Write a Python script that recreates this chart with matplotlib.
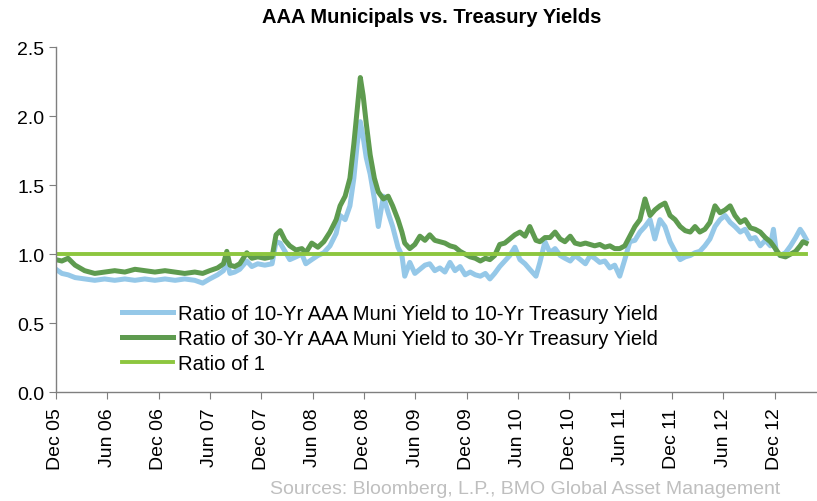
import matplotlib
matplotlib.use("Agg")
import matplotlib.pyplot as plt
import numpy as np
import pandas as pd

dates = [
    "2005-12-01", "2005-12-22", "2006-01-13", "2006-02-07", "2006-03-13", "2006-04-18",
    "2006-05-23", "2006-06-28", "2006-08-03", "2006-09-08", "2006-10-13", "2006-11-18",
    "2006-12-24", "2007-01-29", "2007-03-04", "2007-04-09", "2007-05-07", "2007-06-01",
    "2007-06-29", "2007-07-20", "2007-08-01", "2007-08-12", "2007-08-29", "2007-09-16",
    "2007-10-11", "2007-10-29", "2007-11-19", "2007-12-14", "2008-01-09", "2008-01-23",
    "2008-02-07", "2008-02-24", "2008-03-12", "2008-04-03", "2008-04-24", "2008-05-08",
    "2008-05-29", "2008-06-20", "2008-07-11", "2008-08-02", "2008-08-24", "2008-09-07",
    "2008-09-25", "2008-10-12", "2008-10-26", "2008-11-07", "2008-11-18", "2008-11-28",
    "2008-12-09", "2008-12-23", "2009-01-07", "2009-01-21", "2009-02-08", "2009-02-25",
    "2009-03-13", "2009-04-01", "2009-04-15", "2009-04-25", "2009-05-13", "2009-05-31",
    "2009-06-18", "2009-07-06", "2009-07-23", "2009-08-10", "2009-08-28", "2009-09-15",
    "2009-10-03", "2009-10-21", "2009-11-08", "2009-11-26", "2009-12-14", "2010-01-01",
    "2010-01-19", "2010-02-06", "2010-02-22", "2010-03-11", "2010-03-29", "2010-04-16",
    "2010-05-04", "2010-05-22", "2010-06-09", "2010-06-27", "2010-07-14", "2010-08-05",
    "2010-08-19", "2010-09-06", "2010-09-24", "2010-10-12", "2010-10-30", "2010-11-16",
    "2010-12-05", "2010-12-22", "2011-01-10", "2011-01-28", "2011-02-14", "2011-03-02",
    "2011-03-20", "2011-04-07", "2011-04-25", "2011-05-12", "2011-05-30", "2011-06-17",
    "2011-07-05", "2011-07-23", "2011-08-10", "2011-08-28", "2011-09-15", "2011-10-02",
    "2011-10-20", "2011-11-07", "2011-11-25", "2011-12-13", "2011-12-31", "2012-01-18",
    "2012-02-05", "2012-02-22", "2012-03-10", "2012-03-28", "2012-04-15", "2012-05-03",
    "2012-05-21", "2012-06-08", "2012-06-26", "2012-07-13", "2012-08-01", "2012-08-18",
    "2012-09-06", "2012-09-23", "2012-10-11", "2012-10-29", "2012-11-16", "2012-11-27",
    "2012-12-07", "2012-12-21", "2013-01-09", "2013-01-27", "2013-02-14", "2013-03-02",
    "2013-03-12", "2013-03-23",
]

# Ratio of 10-Yr AAA Muni yield to 10-Yr Treasury yield
ratio_10yr = [
    0.89, 0.86, 0.85, 0.83, 0.82, 0.81, 0.82, 0.81, 0.82, 0.81, 0.82, 0.81,
    0.82, 0.81, 0.82, 0.81, 0.79, 0.82, 0.85, 0.88, 0.95, 0.86, 0.87, 0.89,
    0.95, 0.91, 0.93, 0.92, 0.93, 1.09, 1.08, 1.02, 0.96, 0.98, 1.00, 0.93,
    0.96, 0.99, 1.01, 1.06, 1.15, 1.28, 1.25, 1.35, 1.55, 1.80, 1.96, 1.85,
    1.70, 1.58, 1.40, 1.20, 1.42, 1.30, 1.20, 1.05, 0.99, 0.84, 0.94, 0.86,
    0.89, 0.92, 0.93, 0.88, 0.90, 0.87, 0.94, 0.88, 0.91, 0.85, 0.87, 0.85,
    0.84, 0.86, 0.82, 0.86, 0.91, 0.95, 0.99, 1.05, 0.96, 0.93, 0.89, 0.84,
    0.94, 1.09, 1.01, 1.04, 0.99, 0.97, 0.95, 0.99, 0.96, 0.93, 0.99, 0.97,
    0.94, 0.95, 0.90, 0.92, 0.84, 0.96, 1.09, 1.10, 1.16, 1.20, 1.25, 1.11,
    1.25, 1.20, 1.09, 1.02, 0.96, 0.98, 0.99, 1.01, 1.02, 1.06, 1.11, 1.20,
    1.25, 1.28, 1.23, 1.20, 1.16, 1.18, 1.11, 1.12, 1.06, 1.10, 1.06, 1.18,
    1.02, 0.99, 1.01, 1.06, 1.12, 1.18, 1.15, 1.11,
]

# Ratio of 30-Yr AAA Muni yield to 30-Yr Treasury yield
ratio_30yr = [
    0.96, 0.95, 0.97, 0.92, 0.88, 0.86, 0.87, 0.88, 0.87, 0.89, 0.88, 0.87,
    0.88, 0.87, 0.86, 0.87, 0.86, 0.88, 0.90, 0.93, 1.02, 0.92, 0.91, 0.93,
    1.01, 0.97, 0.98, 0.97, 0.98, 1.14, 1.17, 1.10, 1.06, 1.03, 1.04, 1.01,
    1.08, 1.05, 1.09, 1.16, 1.25, 1.35, 1.42, 1.55, 1.80, 2.05, 2.28, 2.15,
    1.95, 1.72, 1.55, 1.45, 1.40, 1.42, 1.35, 1.25, 1.16, 1.08, 1.04, 1.07,
    1.13, 1.10, 1.14, 1.10, 1.09, 1.08, 1.06, 1.05, 1.02, 1.00, 0.98, 0.97,
    0.95, 0.97, 0.96, 0.99, 1.07, 1.08, 1.11, 1.14, 1.16, 1.13, 1.20, 1.10,
    1.09, 1.12, 1.12, 1.16, 1.11, 1.09, 1.13, 1.08, 1.07, 1.08, 1.07, 1.06,
    1.07, 1.05, 1.06, 1.04, 1.04, 1.06, 1.13, 1.20, 1.25, 1.40, 1.28, 1.32,
    1.35, 1.37, 1.28, 1.25, 1.20, 1.17, 1.16, 1.20, 1.16, 1.18, 1.23, 1.35,
    1.30, 1.32, 1.35, 1.28, 1.23, 1.25, 1.19, 1.18, 1.16, 1.12, 1.09, 1.06,
    1.03, 0.99, 0.98, 1.00, 1.02, 1.06, 1.09, 1.08,
]

tick_labels = ["Dec 05", "Jun 06", "Dec 06", "Jun 07", "Dec 07", "Jun 08", "Dec 08",
               "Jun 09", "Dec 09", "Jun 10", "Dec 10", "Jun 11", "Dec 11", "Jun 12", "Dec 12"]

x = pd.to_datetime(dates)
ratio_one = np.ones(len(x))

plt.rcParams['font.family'] = ['Liberation Sans', 'DejaVu Sans']

fig = plt.figure(figsize=(8.17, 5.02), dpi=100)
ax = fig.add_axes([0.0685, 0.217, 0.9315, 0.687])

ax.plot(x, ratio_10yr, color="#95C8E8", lw=3.6, solid_joinstyle="round",
        label="Ratio of 10-Yr AAA Muni Yield to 10-Yr Treasury Yield")
ax.plot(x, ratio_30yr, color="#5E9B4F", lw=3.6, solid_joinstyle="round",
        label="Ratio of 30-Yr AAA Muni Yield to 30-Yr Treasury Yield")
ax.plot(x, ratio_one, color="#8DC63F", lw=2.8, label="Ratio of 1")

ax.set_ylim(0, 2.5)
ax.set_yticks(np.arange(0, 2.51, 0.5))
ax.yaxis.set_major_formatter(matplotlib.ticker.FormatStrFormatter("%.1f"))

tick_dates = pd.date_range("2005-12-01", periods=len(tick_labels), freq="6MS")
ax.set_xticks(tick_dates)
ax.set_xticklabels(tick_labels, rotation=90)
ax.set_xlim(pd.Timestamp("2005-12-01"), pd.Timestamp("2013-05-01"))

for side in ["top", "right"]:
    ax.spines[side].set_visible(False)
for side in ["left", "bottom"]:
    ax.spines[side].set_color("#7F7F7F")
    ax.spines[side].set_linewidth(1.0)
ax.tick_params(axis="both", colors="#7F7F7F", labelcolor="black", labelsize=14,
               length=5, direction="out")
ax.tick_params(axis="x", pad=6)

fig.text(0.528, 0.965, "AAA Municipals vs. Treasury Yields", ha="center", va="center",
         fontsize=14.5, fontweight="bold")

leg = ax.legend(loc="upper left", bbox_to_anchor=(122 / 817, 0.393), bbox_transform=fig.transFigure,
                frameon=False, fontsize=14.6, handlelength=2.5, handletextpad=0.25,
                labelspacing=0.3, borderpad=0, borderaxespad=0)

fig.text(0.955, 0.024, "Sources: Bloomberg, L.P., BMO Global Asset Management", ha="right",
         va="center", fontsize=14, color="#BFBFBF")

fig.savefig("out.png", dpi=100)
